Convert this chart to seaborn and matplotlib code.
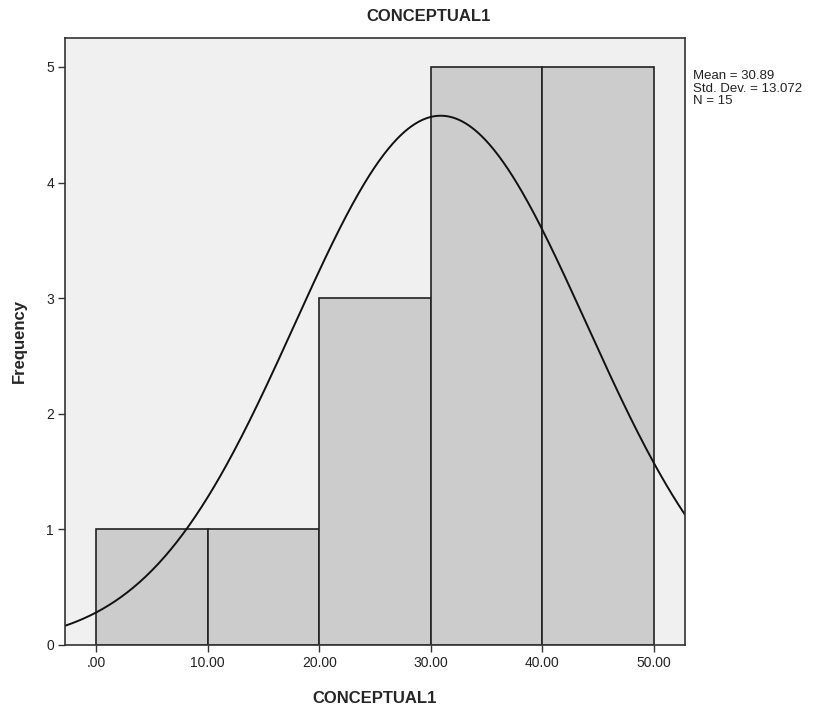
import numpy as np
import matplotlib
matplotlib.use("Agg")
import matplotlib.pyplot as plt
import seaborn as sns

# Data
bin_edges = [0, 10, 20, 30, 40, 50]
bin_centers = [5, 15, 25, 35, 45]
counts = [1, 1, 3, 5, 5]
mean_val = 30.89
std_val = 13.072
n_val = 15
xtick_vals = [0, 10, 20, 30, 40, 50]
xtick_labels = [".00", "10.00", "20.00", "30.00", "40.00", "50.00"]
ytick_vals = [0, 1, 2, 3, 4, 5]

sns.set_style("white")
plt.rcParams['font.family'] = ['Liberation Sans', 'DejaVu Sans']

fig = plt.figure(figsize=(8.3, 7.13), dpi=100)
ax = fig.add_axes([0.0783, 0.0954, 0.747, 0.8513])
ax.set_facecolor("#F0F0F0")

sns.histplot(x=bin_centers, weights=counts, bins=bin_edges, ax=ax,
             color="#CCCCCC", edgecolor="#222222", linewidth=1.2, alpha=1)

xmin, xmax = -2.78, 52.78
xs = np.linspace(xmin, xmax, 400)
binw = bin_edges[1] - bin_edges[0]
ys = n_val * binw / (std_val * np.sqrt(2 * np.pi)) * np.exp(-0.5 * ((xs - mean_val) / std_val) ** 2)
sns.lineplot(x=xs, y=ys, ax=ax, color="#111111", linewidth=1.4)

ax.set_xlim(xmin, xmax)
ax.set_ylim(0, 5.25)
ax.set_xticks(xtick_vals)
ax.set_xticklabels(xtick_labels)
ax.set_yticks(ytick_vals)
ax.tick_params(axis="both", direction="out", length=5, width=1, color="#333333",
               labelsize=10, labelcolor="#222222", bottom=True, left=True, pad=3)
for s in ax.spines.values():
    s.set_color("#333333")
    s.set_linewidth(1.2)

ax.set_xlabel("CONCEPTUAL1", fontsize=12, fontweight="bold", labelpad=15)
ax.set_ylabel("Frequency", fontsize=12, fontweight="bold", labelpad=14)

fig.text(0.516, 0.977, "CONCEPTUAL1", ha="center", va="center", fontsize=12, fontweight="bold")
fig.text(0.835, 0.902, "Mean = 30.89\nStd. Dev. = 13.072\nN = 15", ha="left", va="top",
         fontsize=9.5, linespacing=1.08, color="#222222")

fig.savefig("out.png", dpi=100, facecolor="white")
